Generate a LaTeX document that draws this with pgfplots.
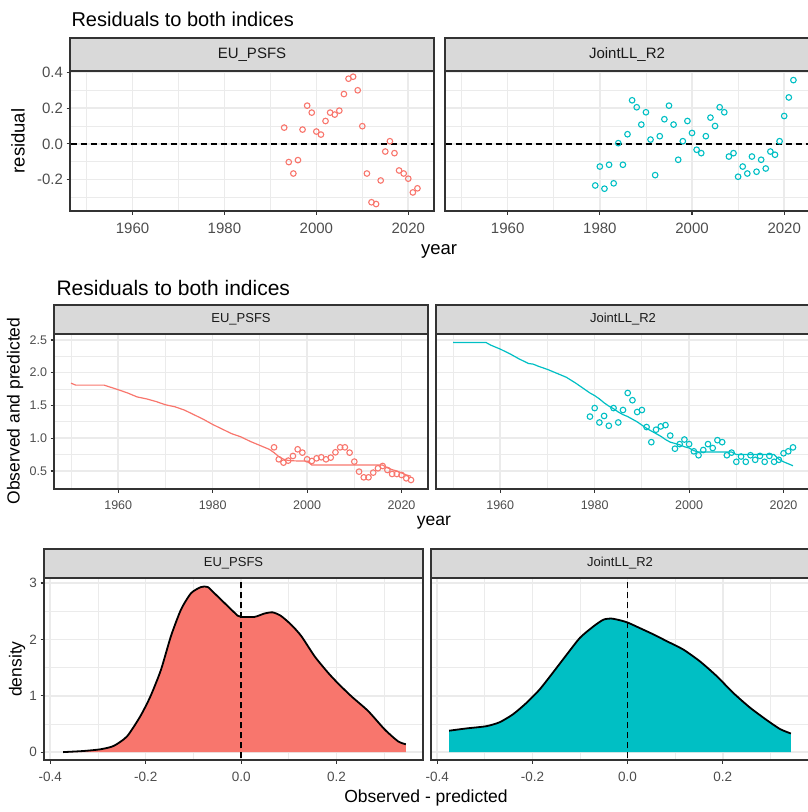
\documentclass[border=0pt]{standalone}
\usepackage{pgfplots}
\pgfplotsset{compat=1.18}
\usepackage{fontspec}
\setmainfont{Liberation Sans}
\definecolor{ggred}{HTML}{F8766D}
\definecolor{ggcyan}{HTML}{00BFC4}
\definecolor{gridgrey}{HTML}{EBEBEB}
\definecolor{stripgrey}{HTML}{D9D9D9}
\definecolor{grey20}{HTML}{333333}
\definecolor{grey30}{HTML}{4D4D4D}
\definecolor{grey10}{HTML}{1A1A1A}

\pgfplotstableread{
year res
1993 0.091
1994 -0.102
1995 -0.166
1996 -0.091
1997 0.080
1998 0.214
1999 0.175
2000 0.069
2001 0.052
2002 0.128
2003 0.175
2004 0.164
2005 0.186
2006 0.279
2007 0.365
2008 0.376
2009 0.300
2010 0.099
2011 -0.166
2012 -0.327
2013 -0.337
2014 -0.205
2015 -0.043
2016 0.015
2017 -0.052
2018 -0.149
2019 -0.166
2020 -0.195
2021 -0.272
2022 -0.249
}\resEU

\pgfplotstableread{
year res
1979 -0.233
1980 -0.127
1981 -0.251
1982 -0.117
1983 -0.221
1984 0.004
1985 -0.117
1986 0.054
1987 0.244
1988 0.205
1989 0.108
1990 0.177
1991 0.024
1992 -0.175
1993 0.043
1994 0.138
1995 0.214
1996 0.108
1997 -0.089
1998 0.015
1999 0.128
2000 0.061
2001 -0.033
2002 -0.052
2003 0.043
2004 0.147
2005 0.100
2006 0.205
2007 0.177
2008 -0.071
2009 -0.052
2010 -0.184
2011 -0.127
2012 -0.166
2013 -0.071
2014 -0.156
2015 -0.089
2016 -0.138
2017 -0.043
2018 -0.061
2019 0.015
2020 0.156
2021 0.260
2022 0.357
}\resJL

\pgfplotstableread{
year obs
1993 0.861
1994 0.678
1995 0.627
1996 0.658
1997 0.729
1998 0.831
1999 0.780
2000 0.678
2001 0.653
2002 0.693
2003 0.709
2004 0.678
2005 0.704
2006 0.785
2007 0.861
2008 0.861
2009 0.780
2010 0.643
2011 0.490
2012 0.403
2013 0.403
2014 0.475
2015 0.541
2016 0.576
2017 0.515
2018 0.454
2019 0.454
2020 0.439
2021 0.388
2022 0.363
}\obsEU

\pgfplotstableread{
year pred
1950 1.84
1951 1.81
1957 1.81
1960 1.74
1962 1.69
1964 1.63
1966 1.60
1968 1.56
1970 1.51
1972 1.48
1974 1.43
1976 1.36
1978 1.29
1980 1.21
1982 1.14
1984 1.07
1986 1.02
1988 0.95
1990 0.89
1992 0.83
1993 0.78
1994 0.72
1995 0.68
1996 0.66
1997 0.655
2000 0.65
2001 0.59
2016 0.59
2017 0.55
2018 0.52
2019 0.50
2020 0.47
2021 0.44
2022 0.42
}\predEU

\pgfplotstableread{
year obs
1979 1.33
1980 1.46
1981 1.24
1982 1.34
1983 1.19
1984 1.46
1985 1.24
1986 1.43
1987 1.69
1988 1.58
1989 1.40
1990 1.43
1991 1.17
1992 0.94
1993 1.13
1994 1.18
1995 1.20
1996 1.04
1997 0.84
1998 0.91
1999 0.98
2000 0.91
2001 0.80
2002 0.74
2003 0.82
2004 0.91
2005 0.85
2006 0.97
2007 0.94
2008 0.74
2009 0.78
2010 0.64
2011 0.72
2012 0.64
2013 0.74
2014 0.67
2015 0.73
2016 0.64
2017 0.73
2018 0.64
2019 0.67
2020 0.77
2021 0.80
2022 0.86
}\obsJL

\pgfplotstableread{
year pred
1950 2.46
1957 2.46
1958 2.42
1960 2.36
1962 2.29
1964 2.21
1966 2.14
1967 2.13
1968 2.10
1970 2.05
1972 1.99
1974 1.93
1976 1.84
1978 1.74
1979 1.69
1980 1.65
1981 1.60
1982 1.54
1983 1.49
1984 1.45
1985 1.40
1986 1.36
1987 1.33
1988 1.29
1989 1.25
1990 1.20
1991 1.15
1992 1.11
1993 1.07
1994 1.03
1995 0.98
1996 0.94
1997 0.92
1998 0.90
1999 0.87
2000 0.85
2001 0.81
2002 0.79
2009 0.79
2010 0.75
2018 0.75
2019 0.68
2020 0.64
2021 0.61
2022 0.58
}\predJL

\pgfplotstableread{
x d
-0.373 0.00
-0.330 0.02
-0.295 0.05
-0.267 0.11
-0.239 0.28
-0.211 0.64
-0.190 0.99
-0.168 1.46
-0.147 2.06
-0.126 2.53
-0.105 2.82
-0.084 2.93
-0.070 2.93
-0.056 2.82
-0.028 2.59
-0.007 2.42
0.000 2.40
0.028 2.40
0.049 2.46
0.066 2.48
0.083 2.42
0.105 2.26
0.126 2.06
0.154 1.70
0.182 1.41
0.203 1.22
0.231 0.99
0.266 0.73
0.301 0.40
0.329 0.19
0.345 0.14
}\denEU

\pgfplotstableread{
x d
-0.375 0.38
-0.339 0.42
-0.297 0.46
-0.269 0.53
-0.241 0.67
-0.213 0.87
-0.185 1.11
-0.157 1.41
-0.128 1.73
-0.100 2.03
-0.072 2.23
-0.051 2.35
-0.034 2.37
-0.016 2.34
0.000 2.30
0.026 2.20
0.054 2.09
0.082 1.97
0.117 1.82
0.152 1.61
0.187 1.35
0.222 1.05
0.257 0.79
0.292 0.57
0.320 0.41
0.343 0.33
}\denJL

\pgfplotsset{
  gg/.style={scale only axis, anchor=north west,
    axis line style={draw=grey20, line width=1.2pt},
    grid=both,
    major grid style={draw=gridgrey, line width=1.6pt},
    minor grid style={draw=gridgrey, line width=0.8pt},
    tick align=outside, major tick length=3.5pt, minor tick length=0pt,
    tick pos=left,
    every tick/.append style={draw=grey20, line width=1.2pt},
    ticklabel style={text=grey30},
    every x tick label/.append style={yshift=-5pt},
    clip=true},
  row1/.style={gg, width=364pt, height=140pt, xmin=1946.4, xmax=2025.6, ymin=-0.376, ymax=0.408,
    xtick={1960,1980,2000,2020}, xticklabels={1960,1980,2000,2020},
    minor xtick={1950,1970,1990,2010},
    ytick={-0.2,0,0.2,0.4}, yticklabels={-0.2,0.0,0.2,0.4},
    minor ytick={-0.3,-0.1,0.1,0.3},
    ticklabel style={font=\fontsize{15}{15}\selectfont}},
  row2/.style={gg, width=374pt, height=155pt, xmin=1946.4, xmax=2025.6, ymin=0.225, ymax=2.59,
    xtick={1960,1980,2000,2020}, xticklabels={1960,1980,2000,2020},
    minor xtick={1950,1970,1990,2010},
    ytick={0.5,1,1.5,2,2.5}, yticklabels={0.5,1.0,1.5,2.0,2.5},
    minor ytick={0.75,1.25,1.75,2.25},
    ticklabel style={font=\fontsize{12.5}{12.5}\selectfont}},
  row3/.style={gg, width=379pt, height=182pt, xmin=-0.413, xmax=0.381, ymin=-0.14, ymax=3.09,
    xtick={-0.4,-0.2,0,0.2}, xticklabels={-0.4,-0.2,0.0,0.2},
    minor xtick={-0.3,-0.1,0.1,0.3},
    ytick={0,1,2,3}, yticklabels={0,1,2,3},
    minor ytick={0.5,1.5,2.5},
    ticklabel style={font=\fontsize{13.5}{13.5}\selectfont}},
  noy/.style={yticklabels={}, ytick style={draw=none}},
  pts/.style={only marks, mark=o, mark size=2.8pt, mark options={draw=#1, line width=1.1pt}},
  dsh/.style={black, line width=1.4pt, dash pattern=on 6pt off 4pt},
}

\begin{document}
\begin{tikzpicture}[x=1pt,y=1pt]
\useasboundingbox (0,0) rectangle (807,-812);

% ---------- Row 1 ----------
\begin{axis}[row1, at={(70pt,-71pt)}]
\addplot[dsh] coordinates {(1940,0) (2030,0)};
\addplot[pts=ggred] table[x=year,y=res] {\resEU};
\end{axis}
\begin{axis}[row1, noy, width=365pt, at={(445pt,-71pt)}]
\addplot[dsh] coordinates {(1940,0) (2030,0)};
\addplot[pts=ggcyan] table[x=year,y=res] {\resJL};
\end{axis}
\draw[fill=stripgrey, draw=grey20, line width=1.2pt] (70,-38) rectangle (434,-71);
\draw[fill=stripgrey, draw=grey20, line width=1.2pt] (445,-38) rectangle (810,-71);
\node[text=grey10, font=\fontsize{15}{15}\selectfont] at (252,-54.5) {EU\_PSFS};
\node[text=grey10, font=\fontsize{15}{15}\selectfont] at (627,-54.5) {JointLL\_R2};
\node[anchor=base west, font=\fontsize{20}{20}\selectfont] at (68,-26) {Residuals to both indices};
\node[rotate=90, font=\fontsize{18.5}{18.5}\selectfont] at (18,-141) {residual};
\node[font=\fontsize{18.5}{18.5}\selectfont] at (439,-251) {year};

% ---------- Row 2 ----------
\begin{axis}[row2, at={(54pt,-334pt)}]
\addplot[ggred, line width=1.2pt] table[x=year,y=pred] {\predEU};
\addplot[pts=ggred] table[x=year,y=obs] {\obsEU};
\end{axis}
\begin{axis}[row2, noy, at={(436pt,-334pt)}]
\addplot[ggcyan, line width=1.2pt] table[x=year,y=pred] {\predJL};
\addplot[pts=ggcyan] table[x=year,y=obs] {\obsJL};
\end{axis}
\draw[fill=stripgrey, draw=grey20, line width=1.2pt] (54,-305) rectangle (428,-334);
\draw[fill=stripgrey, draw=grey20, line width=1.2pt] (436,-305) rectangle (810,-334);
\node[text=grey10, font=\fontsize{13}{13}\selectfont] at (241,-319.5) {EU\_PSFS};
\node[text=grey10, font=\fontsize{13}{13}\selectfont] at (623,-319.5) {JointLL\_R2};
\node[anchor=base west, font=\fontsize{21}{21}\selectfont] at (53,-295) {Residuals to both indices};
\node[rotate=90, font=\fontsize{17.5}{17.5}\selectfont] at (15,-411) {Observed and predicted};
\node[font=\fontsize{17.5}{17.5}\selectfont] at (434,-523) {year};

% ---------- Row 3 ----------
\begin{axis}[row3, at={(44pt,-578pt)}]
\addplot[fill=ggred, draw=none] table[x=x,y=d] {\denEU} -- (axis cs:0.345,0) -- (axis cs:-0.373,0) -- cycle;
\addplot[black, line width=1.8pt, smooth, tension=0.4] table[x=x,y=d] {\denEU};
\addplot[dsh] coordinates {(0,-1) (0,4)};
\end{axis}
\begin{axis}[row3, noy, width=378pt, at={(431pt,-578pt)}]
\addplot[fill=ggcyan, draw=none] table[x=x,y=d] {\denJL} -- (axis cs:0.343,0) -- (axis cs:-0.375,0) -- cycle;
\addplot[black, line width=1.8pt, smooth, tension=0.4] table[x=x,y=d] {\denJL};
\addplot[dsh] coordinates {(0,-1) (0,4)};
\end{axis}
\draw[fill=stripgrey, draw=grey20, line width=1.2pt] (44,-549) rectangle (423,-578);
\draw[fill=stripgrey, draw=grey20, line width=1.2pt] (431,-549) rectangle (809,-578);
\node[text=grey10, font=\fontsize{13}{13}\selectfont] at (233.5,-563.5) {EU\_PSFS};
\node[text=grey10, font=\fontsize{13}{13}\selectfont] at (620,-563.5) {JointLL\_R2};
\node[rotate=90, font=\fontsize{17.5}{17.5}\selectfont] at (17,-669) {density};
\node[font=\fontsize{17.5}{17.5}\selectfont] at (426,-798) {Observed - predicted};
\end{tikzpicture}
\end{document}
